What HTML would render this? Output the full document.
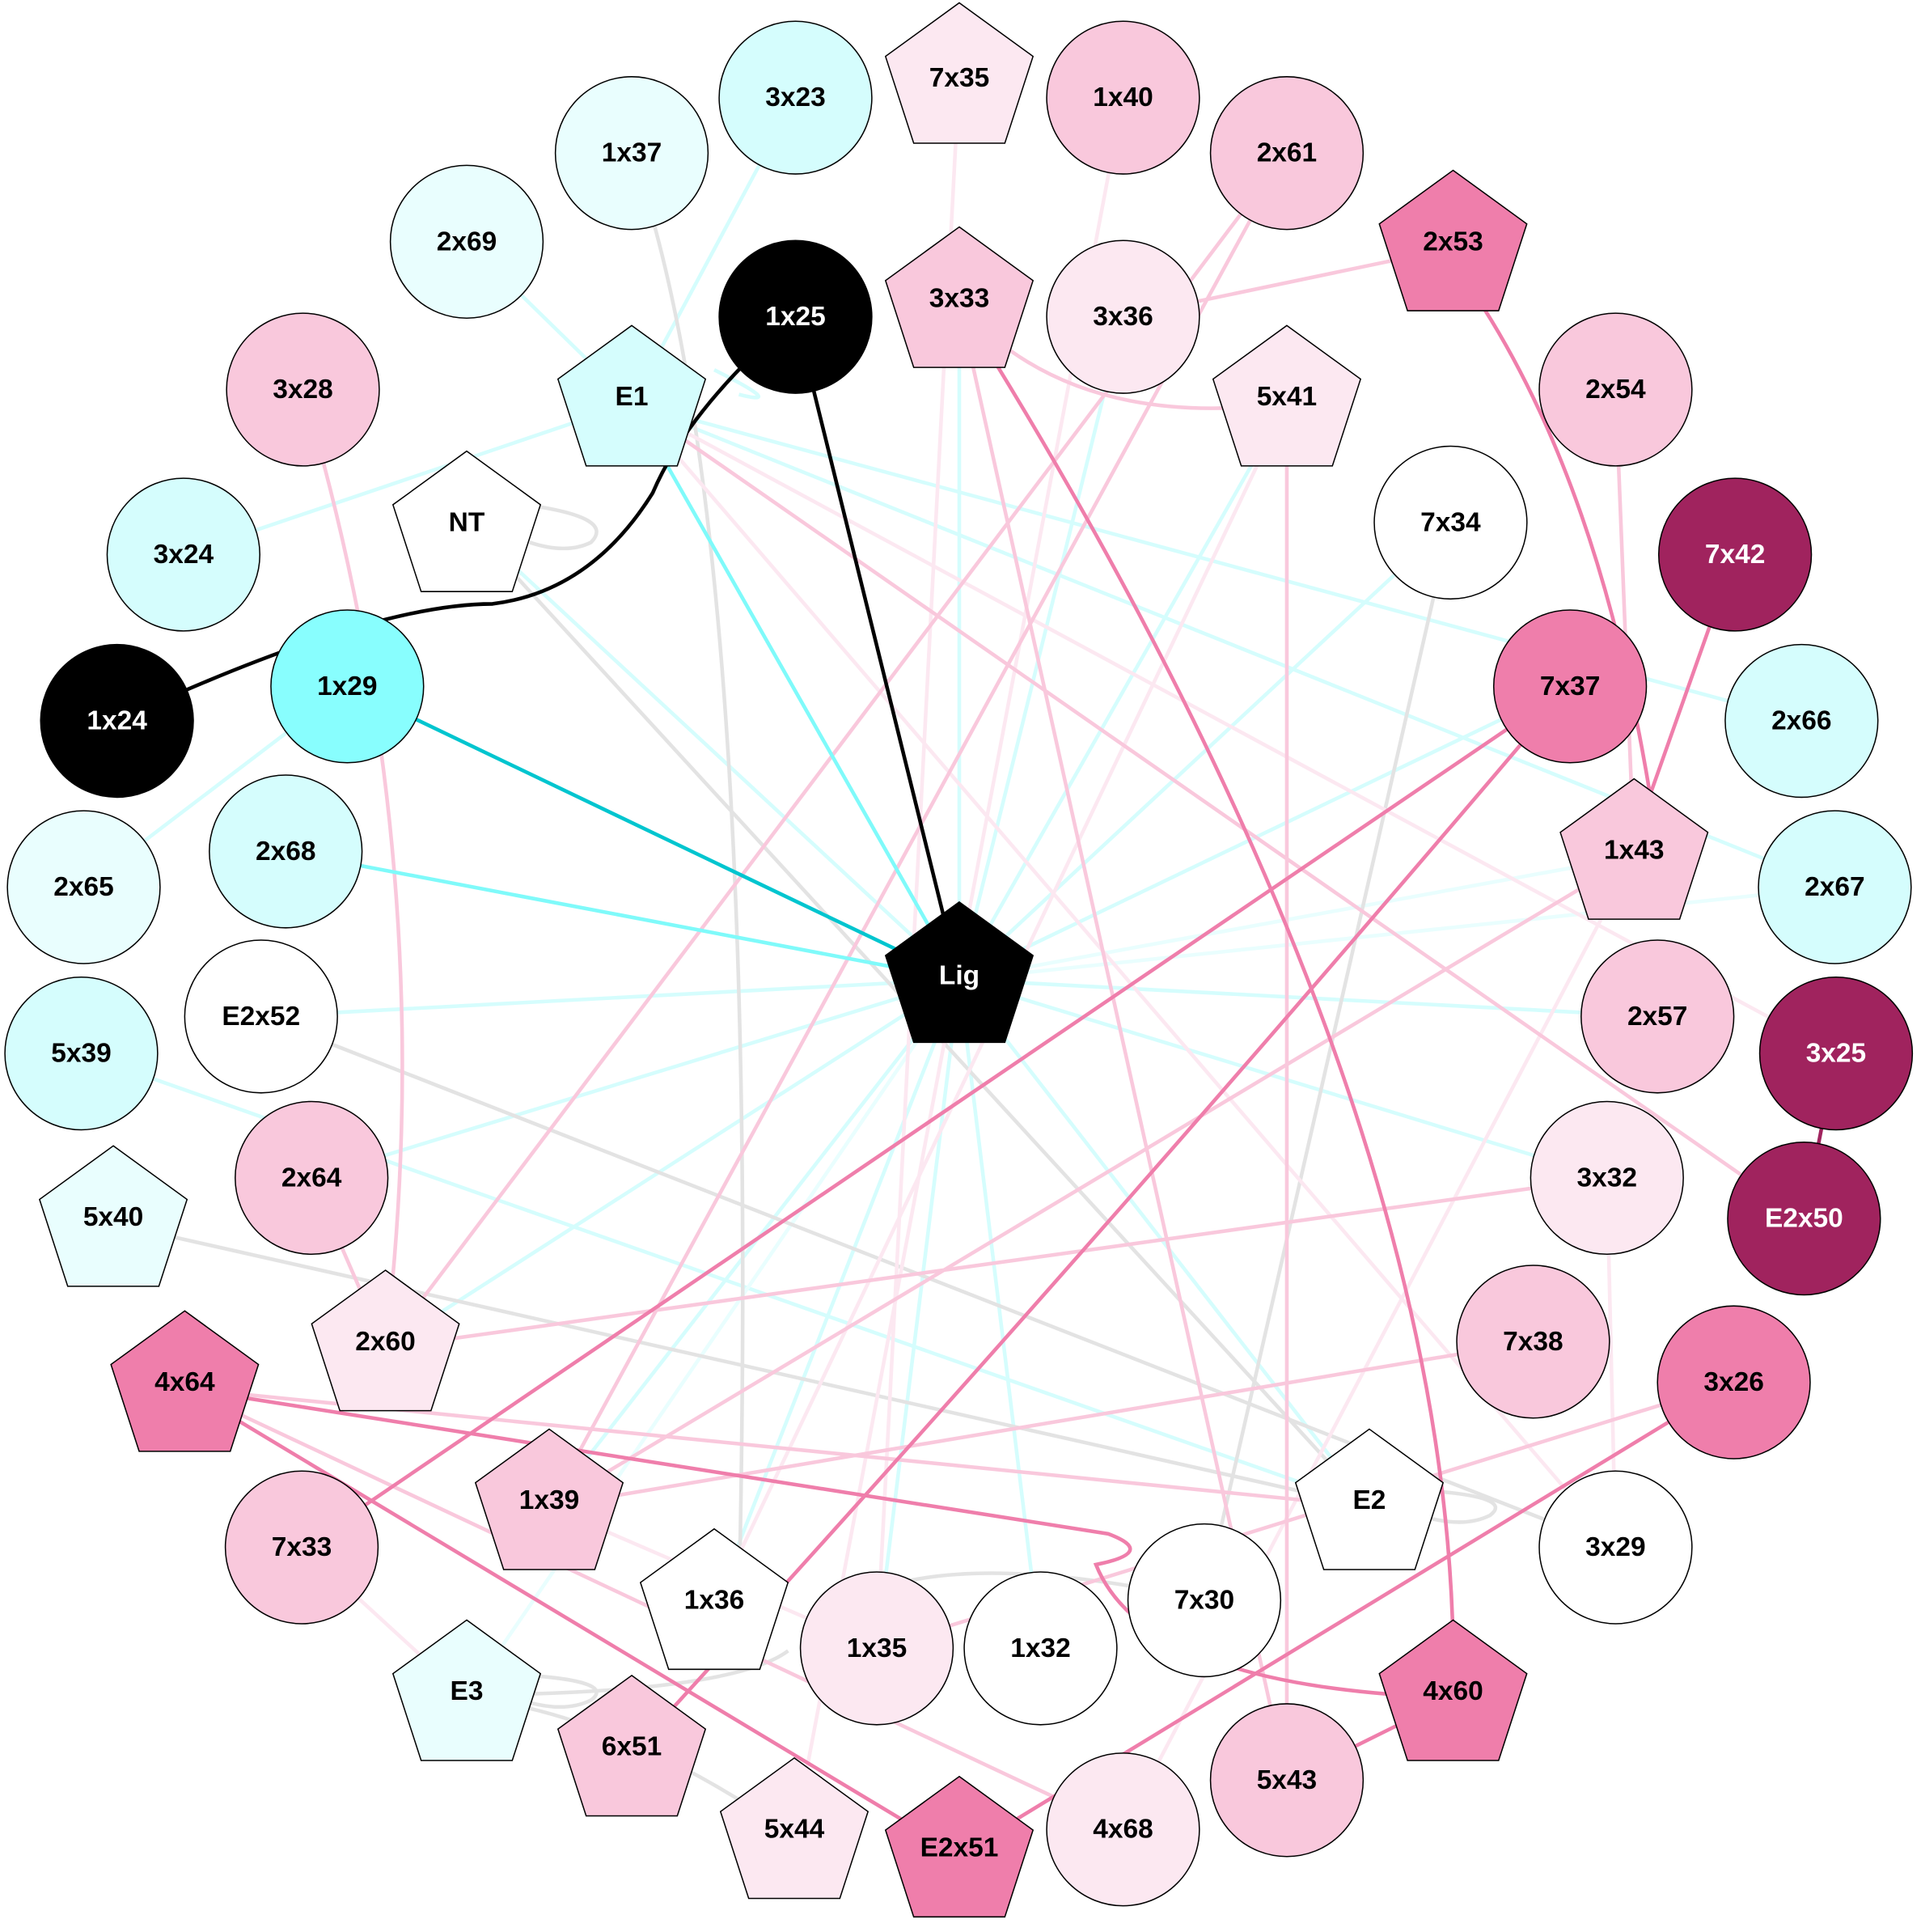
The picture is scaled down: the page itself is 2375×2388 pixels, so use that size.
<!DOCTYPE html>
<html><head><meta charset="utf-8"><style>html,body{margin:0;padding:0;background:#fff}svg{display:block}</style></head>
<body>
<svg width="2375" height="2388" viewBox="0 0 1560 1568" xmlns="http://www.w3.org/2000/svg">
<rect width="1560" height="1568" fill="#fff"/>
<g fill="none" stroke-width="3">
<g stroke="#d5fdfd">
<line x1="779" y1="795" x2="912" y2="257"/>
<line x1="779" y1="795" x2="1178" y2="424"/>
<line x1="779" y1="795" x2="1346" y2="825"/>
<line x1="779" y1="795" x2="1305" y2="956"/>
<line x1="779" y1="795" x2="212" y2="825"/>
<line x1="779" y1="795" x2="253" y2="956"/>
<line x1="779" y1="795" x2="313" y2="1094"/>
<line x1="779" y1="795" x2="580" y2="1304"/>
<line x1="779" y1="795" x2="845" y2="1338"/>
<line x1="779" y1="795" x2="712" y2="1338"/>
<line x1="779" y1="795" x2="1112" y2="1223"/>
<line x1="779" y1="795" x2="779" y2="247"/>
<line x1="779" y1="795" x2="1045" y2="327"/>
<line x1="779" y1="795" x2="446" y2="1223"/>
<line x1="779" y1="795" x2="1275" y2="557"/>
<line x1="646" y1="79" x2="513" y2="327"/>
<line x1="379" y1="196" x2="513" y2="327"/>
<line x1="149" y1="450" x2="513" y2="327"/>
<line x1="68" y1="720" x2="282" y2="557"/>
<line x1="66" y1="855" x2="1112" y2="1223"/>
<line x1="513" y1="327" x2="1463" y2="585"/>
<line x1="513" y1="327" x2="1490" y2="720"/>
<line x1="779" y1="795" x2="379" y2="424"/>
<path d="M580 300 Q640 330 600 320"/>
</g>
<g stroke="#e9fefe">
<line x1="779" y1="795" x2="1327" y2="695"/>
<line x1="779" y1="795" x2="1490" y2="720"/>
<line x1="779" y1="795" x2="379" y2="1378"/>
</g>
<g stroke="#e3e3e3">
<path d="M513 124 Q620 420 600 1304"/>
<line x1="379" y1="424" x2="1112" y2="1223"/>
<line x1="212" y1="825" x2="1312" y2="1256"/>
<line x1="92" y1="993" x2="1112" y2="1223"/>
<line x1="1178" y1="424" x2="978" y2="1299"/>
<path d="M712 1290 Q800 1260 978 1299"/>
<path d="M379 1378 Q500 1390 645 1490"/>
<path d="M430 410 Q500 420 480 440 Q460 450 430 440"/>
<path d="M1160 1210 Q1230 1215 1210 1230 Q1190 1240 1160 1232"/>
<path d="M430 1360 Q500 1365 480 1380 Q460 1390 430 1382"/>
<path d="M430 1375 Q600 1370 640 1340"/>
</g>
<g stroke="#fce8f1">
<line x1="779" y1="60" x2="712" y2="1338"/>
<line x1="912" y1="79" x2="645" y2="1490"/>
<line x1="1045" y1="327" x2="580" y2="1304"/>
<line x1="513" y1="327" x2="1491" y2="855"/>
<line x1="513" y1="327" x2="1312" y2="1256"/>
<line x1="1305" y1="956" x2="1312" y2="1256"/>
<line x1="1327" y1="695" x2="912" y2="1485"/>
<line x1="246" y1="1256" x2="379" y2="1378"/>
<line x1="446" y1="1223" x2="712" y2="1338"/>
</g>
<g stroke="#f9c8dc">
<path d="M246 316 Q360 700 313 1094"/>
<line x1="1312" y1="316" x2="1327" y2="695"/>
<line x1="1045" y1="124" x2="313" y2="1094"/>
<line x1="1045" y1="124" x2="446" y2="1223"/>
<line x1="1180" y1="201" x2="912" y2="257"/>
<path d="M779 247 Q870 350 1045 327"/>
<line x1="1045" y1="327" x2="1045" y2="1445"/>
<line x1="1245" y1="1089" x2="446" y2="1223"/>
<line x1="1305" y1="956" x2="313" y2="1094"/>
<line x1="1327" y1="695" x2="446" y2="1223"/>
<line x1="150" y1="1127" x2="1112" y2="1223"/>
<line x1="150" y1="1127" x2="912" y2="1485"/>
<line x1="779" y1="247" x2="1045" y2="1445"/>
<line x1="1408" y1="1122" x2="712" y2="1338"/>
<line x1="253" y1="956" x2="313" y2="1094"/>
<line x1="513" y1="327" x2="1465" y2="989"/>
</g>
<g stroke="#ef7eab">
<path d="M1205 250 Q1300 400 1340 645"/>
<line x1="1409" y1="450" x2="1340" y2="645"/>
<line x1="1275" y1="557" x2="246" y2="1256"/>
<path d="M1275 557 Q900 1000 513 1423"/>
<path d="M779 247 Q1190 900 1180 1378"/>
<line x1="150" y1="1127" x2="779" y2="1505"/>
<path d="M150 1127 Q300 1150 900 1245 Q940 1260 890 1270 Q930 1370 1180 1378"/>
<line x1="1408" y1="1122" x2="779" y2="1505"/>
<line x1="1045" y1="1445" x2="1180" y2="1378"/>
</g>
<line x1="1491" y1="855" x2="1465" y2="989" stroke="#a0235e"/>
<line x1="282" y1="557" x2="779" y2="795" stroke="#00c5cf"/>
<line x1="513" y1="327" x2="779" y2="795" stroke="#7ffafa"/>
<line x1="232" y1="691" x2="779" y2="795" stroke="#7ffafa"/>
<line x1="646" y1="257" x2="779" y2="795" stroke="#000"/>
<path d="M646 257 Q560 330 530 400 Q480 480 400 490 Q300 490 95 585" stroke="#000"/>
</g>
<g stroke="#000" stroke-width="1">
<circle cx="646" cy="79" r="62" fill="#d5fdfd"/>
<circle cx="912" cy="79" r="62" fill="#f9c8dc"/>
<circle cx="513" cy="124" r="62" fill="#e9fefe"/>
<circle cx="1045" cy="124" r="62" fill="#f9c8dc"/>
<circle cx="379" cy="196" r="62" fill="#e9fefe"/>
<circle cx="646" cy="257" r="62" fill="#000"/>
<circle cx="912" cy="257" r="62" fill="#fce8f1"/>
<circle cx="246" cy="316" r="62" fill="#f9c8dc"/>
<circle cx="1312" cy="316" r="62" fill="#f9c8dc"/>
<circle cx="1178" cy="424" r="62" fill="#fff"/>
<circle cx="149" cy="450" r="62" fill="#d5fdfd"/>
<circle cx="1409" cy="450" r="62" fill="#a0235e"/>
<circle cx="95" cy="585" r="62" fill="#000"/>
<circle cx="282" cy="557" r="62" fill="#88fefe"/>
<circle cx="1275" cy="557" r="62" fill="#ef7eab"/>
<circle cx="1463" cy="585" r="62" fill="#d5fdfd"/>
<circle cx="232" cy="691" r="62" fill="#d5fdfd"/>
<circle cx="68" cy="720" r="62" fill="#e9fefe"/>
<circle cx="1490" cy="720" r="62" fill="#d5fdfd"/>
<circle cx="212" cy="825" r="62" fill="#fff"/>
<circle cx="1346" cy="825" r="62" fill="#f9c8dc"/>
<circle cx="66" cy="855" r="62" fill="#d5fdfd"/>
<circle cx="1491" cy="855" r="62" fill="#a0235e"/>
<circle cx="253" cy="956" r="62" fill="#f9c8dc"/>
<circle cx="1305" cy="956" r="62" fill="#fce8f1"/>
<circle cx="1465" cy="989" r="62" fill="#a0235e"/>
<circle cx="1245" cy="1089" r="62" fill="#f9c8dc"/>
<circle cx="1408" cy="1122" r="62" fill="#ef7eab"/>
<circle cx="245" cy="1256" r="62" fill="#f9c8dc"/>
<circle cx="1312" cy="1256" r="62" fill="#fff"/>
<circle cx="978" cy="1299" r="62" fill="#fff"/>
<circle cx="712" cy="1338" r="62" fill="#fce8f1"/>
<circle cx="845" cy="1338" r="62" fill="#fff"/>
<circle cx="1045" cy="1445" r="62" fill="#f9c8dc"/>
<circle cx="912" cy="1485" r="62" fill="#fce8f1"/>
</g>
<defs><polygon id="p" points="0,-63 59.9,-19.5 37,51 -37,51 -59.9,-19.5"/></defs>
<g stroke="#000" stroke-width="1">
<use href="#p" x="779" y="65" fill="#fce8f1"/>
<use href="#p" x="779" y="247" fill="#f9c8dc"/>
<use href="#p" x="1180" y="201" fill="#ef7eab"/>
<use href="#p" x="513" y="327" fill="#d5fdfd"/>
<use href="#p" x="1045" y="327" fill="#fce8f1"/>
<use href="#p" x="379" y="429" fill="#fff"/>
<use href="#p" x="1327" y="695" fill="#f9c8dc"/>
<use href="#p" x="779" y="795" fill="#000"/>
<use href="#p" x="92" y="993" fill="#e9fefe"/>
<use href="#p" x="313" y="1094" fill="#fce8f1"/>
<use href="#p" x="150" y="1127" fill="#ef7eab"/>
<use href="#p" x="1112" y="1223" fill="#fff"/>
<use href="#p" x="446" y="1223" fill="#f9c8dc"/>
<use href="#p" x="580" y="1304" fill="#fff"/>
<use href="#p" x="379" y="1378" fill="#e9fefe"/>
<use href="#p" x="1180" y="1378" fill="#ef7eab"/>
<use href="#p" x="513" y="1423" fill="#f9c8dc"/>
<use href="#p" x="645" y="1490" fill="#fce8f1"/>
<use href="#p" x="779" y="1505" fill="#ef7eab"/>
</g>
<g font-family="Liberation Sans, Arial, sans-serif" font-weight="bold" font-size="22" text-anchor="middle" dominant-baseline="central" fill="#000">
<text x="646" y="79">3x23</text><text x="912" y="79">1x40</text><text x="513" y="124">1x37</text><text x="1045" y="124">2x61</text>
<text x="379" y="196">2x69</text><text x="646" y="257" fill="#fff">1x25</text><text x="912" y="257">3x36</text><text x="246" y="316">3x28</text>
<text x="1312" y="316">2x54</text><text x="1178" y="424">7x34</text><text x="149" y="450">3x24</text><text x="1409" y="450" fill="#fff">7x42</text>
<text x="95" y="585" fill="#fff">1x24</text><text x="282" y="557">1x29</text><text x="1275" y="557">7x37</text><text x="1463" y="585">2x66</text>
<text x="232" y="691">2x68</text><text x="68" y="720">2x65</text><text x="1490" y="720">2x67</text><text x="212" y="825">E2x52</text>
<text x="1346" y="825">2x57</text><text x="66" y="855">5x39</text><text x="1491" y="855" fill="#fff">3x25</text><text x="253" y="956">2x64</text>
<text x="1305" y="956">3x32</text><text x="1465" y="989" fill="#fff">E2x50</text><text x="1245" y="1089">7x38</text><text x="1408" y="1122">3x26</text>
<text x="245" y="1256">7x33</text><text x="1312" y="1256">3x29</text><text x="978" y="1299">7x30</text><text x="712" y="1338">1x35</text>
<text x="845" y="1338">1x32</text><text x="1045" y="1445">5x43</text><text x="912" y="1485">4x68</text>
<text x="779" y="63">7x35</text><text x="779" y="242">3x33</text><text x="1180" y="196">2x53</text><text x="513" y="322">E1</text>
<text x="1045" y="322">5x41</text><text x="379" y="424">NT</text><text x="1327" y="690">1x43</text><text x="779" y="792" fill="#fff">Lig</text>
<text x="92" y="988">5x40</text><text x="313" y="1089">2x60</text><text x="150" y="1122">4x64</text><text x="1112" y="1218">E2</text>
<text x="446" y="1218">1x39</text><text x="580" y="1299">1x36</text><text x="379" y="1373">E3</text><text x="1180" y="1373">4x60</text>
<text x="513" y="1418">6x51</text><text x="645" y="1485">5x44</text><text x="779" y="1500">E2x51</text>
</g>
</svg>
</body></html>
